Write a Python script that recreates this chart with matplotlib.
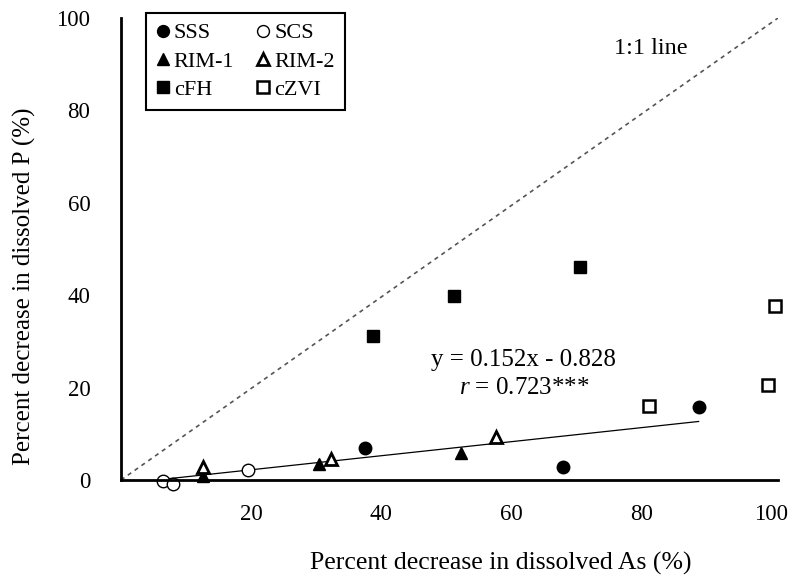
import matplotlib
matplotlib.use("Agg")
import matplotlib.pyplot as plt
import numpy as np

plt.rcParams["font.family"] = ["Liberation Serif", "DejaVu Serif"]
plt.rcParams["mathtext.fontset"] = "custom"
plt.rcParams["mathtext.rm"] = "Liberation Serif"
plt.rcParams["mathtext.it"] = "Liberation Serif:italic"

# Percent decrease in dissolved As (x) and P (y) per sorbent
sss_x = [37.5, 68.0, 88.8]
sss_y = [6.9, 2.8, 15.8]
scs_x = [6.5, 8.0, 19.5]
scs_y = [-0.2, -0.9, 2.2]
rim1_x = [12.6, 30.5, 52.3]
rim1_y = [0.9, 3.5, 5.8]
rim2_x = [12.6, 32.3, 57.7]
rim2_y = [2.8, 4.5, 9.3]
cfh_x = [38.8, 51.2, 70.5]
cfh_y = [31.2, 39.8, 46.1]
czvi_x = [81.2, 99.4, 100.6]
czvi_y = [16.0, 20.6, 37.7]

slope = 0.152
intercept = -0.828
fit_x = [7.0, 88.8]


def main() -> None:
    fig = plt.figure(figsize=(7.97, 5.76), dpi=100)
    ax = fig.add_axes([121 / 797, 96 / 576, 657 / 797, 462 / 576])

    ax.plot([0, 101], [0, 100], linestyle=(0, (2.5, 2.5)), color="#555555", linewidth=1.2, zorder=1)
    fx = np.array(fit_x)
    ax.plot(fx, slope * fx + intercept, color="black", linewidth=0.9, zorder=2)

    ms = 9
    h_sss, = ax.plot(sss_x, sss_y, "o", color="black", markersize=ms, label="SSS", clip_on=False)
    h_scs, = ax.plot(scs_x, scs_y, "o", markerfacecolor="white", markeredgecolor="black",
                     markeredgewidth=1.0, markersize=ms, label="SCS", clip_on=False)
    h_rim1, = ax.plot(rim1_x, rim1_y, "^", color="black", markersize=ms, label="RIM-1", clip_on=False)
    h_rim2, = ax.plot(rim2_x, rim2_y, "^", markerfacecolor="white", markeredgecolor="black",
                      markeredgewidth=2.0, markersize=ms, label="RIM-2", clip_on=False)
    h_cfh, = ax.plot(cfh_x, cfh_y, "s", color="black", markersize=8.5, label="cFH", clip_on=False)
    h_czvi, = ax.plot(czvi_x, czvi_y, "s", markerfacecolor="white", markeredgecolor="black",
                      markeredgewidth=1.8, markersize=8.5, label="cZVI", clip_on=False)

    ax.set_xlim(0, 101)
    ax.set_ylim(0, 100)
    ax.set_xticks([20, 40, 60, 80, 100])
    ax.set_yticks([0, 20, 40, 60, 80, 100])
    ax.tick_params(length=0, labelsize=16.5)
    ax.tick_params(axis="x", pad=17)
    ax.tick_params(axis="y", pad=22)
    for side in ("top", "right"):
        ax.spines[side].set_visible(False)
    for side in ("left", "bottom"):
        ax.spines[side].set_linewidth(2.0)

    ax.set_xlabel("Percent decrease in dissolved As (%)", fontsize=18.5)
    ax.set_ylabel("Percent decrease in dissolved P (%)", fontsize=18)
    ax.xaxis.set_label_coords(0.578, -0.155)
    ax.yaxis.set_label_coords(-0.13, 0.42)

    ax.text(81.4, 93.5, "1:1 line", fontsize=17.5, ha="center", va="center")
    ax.text(61.8, 26.0, "y = 0.152x - 0.828", fontsize=18, ha="center", va="center")
    ax.text(62.0, 19.9, r"$\it{r}$ = 0.723***", fontsize=18, ha="center", va="center")

    leg = ax.legend(handles=[h_sss, h_rim1, h_cfh, h_scs, h_rim2, h_czvi], ncol=2,
                    loc="upper left", bbox_to_anchor=(0.038, 1.011), borderaxespad=0,
                    fontsize=16, markerscale=0.95, handlelength=0.6, handletextpad=0.2,
                    columnspacing=1.0, labelspacing=0.35, borderpad=0.45,
                    fancybox=False, edgecolor="black", framealpha=1)
    leg.get_frame().set_linewidth(1.5)

    fig.savefig("out.png", dpi=100)
    plt.close(fig)


if __name__ == "__main__":
    main()
